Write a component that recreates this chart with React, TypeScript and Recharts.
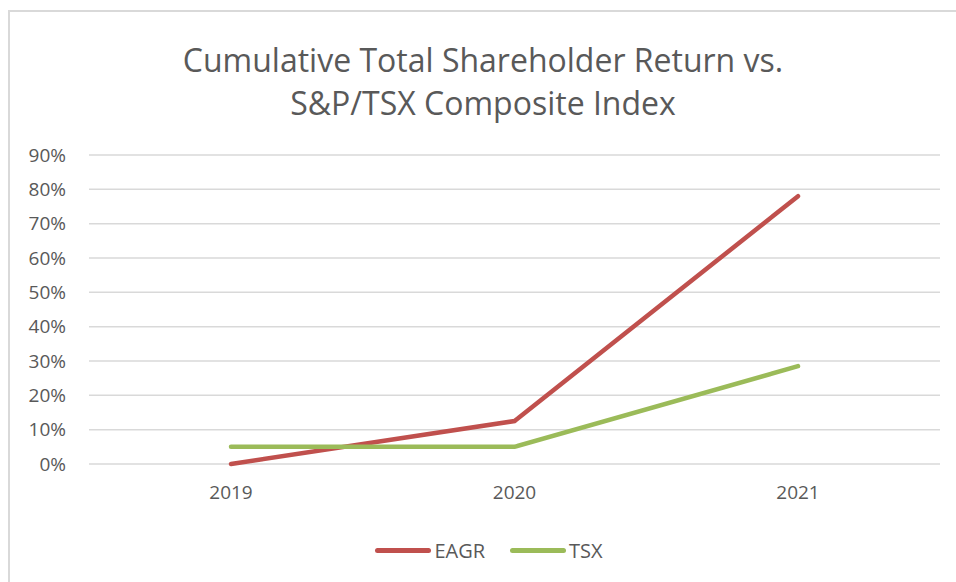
import React from 'react';
import { LineChart, Line, XAxis, YAxis, CartesianGrid, Legend } from 'recharts';

const years = ['2019', '2020', '2021'];
const eagr = [0, 12.5, 78];
const tsx = [5, 5, 28.5];
const yTicks = [0, 10, 20, 30, 40, 50, 60, 70, 80, 90];

const data = years.map((year, i) => ({ year, EAGR: eagr[i], TSX: tsx[i] }));

const FONT = '"Open Sans", sans-serif';
const GREY = '#595959';

const CustomLegend = ({ payload }: any) => (
  <div style={{ display: 'flex', justifyContent: 'center', gap: 25, fontFamily: FONT, fontSize: 20, color: GREY, paddingLeft: 28 }}>
    {(payload || []).map((entry: any) => (
      <div key={entry.value} style={{ display: 'flex', alignItems: 'center', gap: 3 }}>
        <div style={{ width: 56, height: 5, borderRadius: 3, background: entry.color }} />
        <span>{entry.value}</span>
      </div>
    ))}
  </div>
);

export default function App() {
  return (
    <div
      style={{
        position: 'fixed',
        top: 10,
        left: 8,
        width: 948,
        height: 572,
        borderTop: '2px solid #d9d9d9',
        borderLeft: '2px solid #d9d9d9',
        background: '#fff',
      }}
    >
      <div
        style={{
          position: 'absolute',
          top: 26,
          left: 0,
          width: 946,
          textAlign: 'center',
          fontFamily: FONT,
          fontSize: 32,
          lineHeight: '43px',
          color: GREY,
        }}
      >
        Cumulative Total Shareholder Return vs.
        <br />
        S&amp;P/TSX Composite Index
      </div>
      <LineChart
        width={946}
        height={570}
        data={data}
        margin={{ top: 143, right: 16, bottom: 18, left: 0 }}
      >
        <CartesianGrid vertical={false} stroke="#d9d9d9" strokeWidth={1.5} />
        <XAxis
          dataKey="year"
          axisLine={false}
          tickLine={false}
          tickSize={0}
          tickMargin={22}
          height={73}
          padding={{ left: 142, right: 142 }}
          tick={{ fill: GREY, fontSize: 19, fontFamily: FONT }}
        />
        <YAxis
          domain={[0, 90]}
          ticks={yTicks}
          interval={0}
          axisLine={false}
          tickLine={false}
          tickSize={0}
          tickMargin={23}
          width={79}
          tickFormatter={(v: number) => `${v}%`}
          tick={{ fill: GREY, fontSize: 19, fontFamily: FONT }}
        />
        <Legend verticalAlign="bottom" content={<CustomLegend />} />
        <Line
          type="linear"
          dataKey="EAGR"
          stroke="#C0504D"
          strokeWidth={4.5}
          strokeLinecap="round"
          dot={false}
          isAnimationActive={false}
        />
        <Line
          type="linear"
          dataKey="TSX"
          stroke="#9BBB59"
          strokeWidth={4.5}
          strokeLinecap="round"
          dot={false}
          isAnimationActive={false}
        />
      </LineChart>
    </div>
  );
}
